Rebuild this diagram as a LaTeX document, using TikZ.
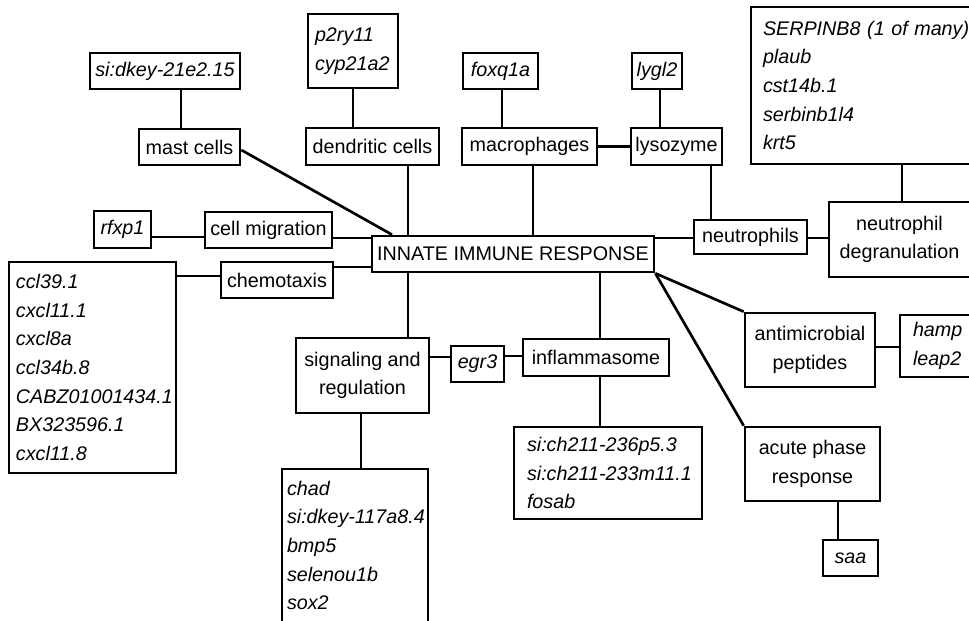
\documentclass[tikz,border=0pt]{standalone}
\usepackage{fontspec}
\setmainfont{Liberation Sans}
\tikzset{
  bx/.style={draw, line width=2pt, inner sep=0pt, font=\fontsize{14.8}{21.5}\selectfont},
  lbl/.style={bx, align=center},
  gen/.style={bx, align=left, font=\fontsize{14.8}{21.5}\selectfont\itshape},
  ln/.style={line width=2pt},
}
\newdimen\gbpad
\newcommand\labelbox[6]{%
  \pgfmathsetmacro\gbW{#4*0.75}\pgfmathsetmacro\gbH{#5*0.75}%
  \node[lbl, minimum width=\gbW pt, minimum height=\gbH pt] (#1) at (#2,#3) {#6};}
\newcommand\genebox[7]{%
  \pgfmathsetmacro\gbW{#4*0.75}\pgfmathsetmacro\gbH{#5*0.75}%
  \pgfmathsetlength\gbpad{#6*0.75pt}%
  \node[gen, minimum width=\gbW pt, minimum height=\gbH pt, text width=\gbW pt, inner xsep=0pt] (#1) at (#2,#3)
    {\leftskip=\gbpad \hyphenpenalty=10000 \exhyphenpenalty=10000 \hbadness=10000 \hfuzz=200pt #7\par};}
\begin{document}
\begin{tikzpicture}[x=0.75pt,y=-0.75pt]
\clip (0,0) rectangle (969,620);
\labelbox{gSi}{165}{71}{150}{36}{\itshape si:dkey-21e2.15}
\labelbox{mast}{189.5}{147}{101}{36}{mast cells}
\genebox{gP2}{353}{51}{90}{74}{7}{p2ry11\\cyp21a2}
\labelbox{dend}{372.5}{146.5}{133}{37}{dendritic cells}
\labelbox{gFox}{500.5}{71}{75}{36}{\itshape foxq1a}
\labelbox{macro}{529.5}{146.5}{135}{37}{macrophages}
\labelbox{gLy}{657}{71}{50}{36}{\itshape lygl2}
\labelbox{lyso}{676.5}{146.5}{91}{37}{lysozyme}
\genebox{gSer}{875.5}{85.5}{249}{157}{12}{SERPINB8 (1 of many)\\plaub\\cst14b.1\\serbinb1l4\\krt5}
\labelbox{neut}{750.5}{237}{113}{34}{neutrophils}
\labelbox{degr}{899.5}{239.5}{141}{75}{neutrophil\\degranulation}
\labelbox{gRf}{122.5}{229.5}{57}{37}{\itshape rfxp1}
\labelbox{migr}{268.5}{230}{127}{36}{cell migration}
\labelbox{innate}{513}{254}{282}{36}{INNATE IMMUNE RESPONSE}
\labelbox{chemo}{277}{280}{112}{36}{chemotaxis}
\genebox{gCcl}{92.5}{367.5}{167}{211}{7}{ccl39.1\\cxcl11.1\\cxcl8a\\ccl34b.8\\CABZ01001434.1\\BX323596.1\\cxcl11.8}
\labelbox{sig}{362.5}{375.5}{133}{75}{signaling and\\regulation}
\labelbox{gEgr}{477.5}{364}{53}{36}{\itshape egr3}
\labelbox{infl}{596}{357.5}{146}{37}{inflammasome}
\genebox{gSich}{608}{473}{188}{92}{13}{si:ch211-236p5.3\\si:ch211-233m11.1\\fosab}
\genebox{gChad}{355}{545.5}{146}{153}{5}{chad\\si:dkey-117a8.4\\bmp5\\selenou1b\\sox2}
\labelbox{anti}{810}{350}{130}{74}{antimicrobial\\peptides}
\genebox{gHamp}{945}{346}{90}{62}{13}{hamp\\leap2}
\labelbox{acute}{812.5}{464}{135}{74}{acute phase\\response}
\labelbox{gSaa}{850.5}{558}{55}{36}{\itshape saa}
%
\draw[ln] (181,0 |- gSi.south) -- (181,0 |- mast.north);
\draw[ln] (mast.east |- 0,150) -- (392,0 |- innate.north);
\draw[ln] (353,0 |- gP2.south) -- (353,0 |- dend.north);
\draw[ln] (408,0 |- dend.south) -- (408,0 |- innate.north);
\draw[ln] (502,0 |- gFox.south) -- (502,0 |- macro.north);
\draw[ln] (533,0 |- macro.south) -- (533,0 |- innate.north);
\draw[ln] (macro.east) -- (lyso.west);
\draw[ln] (660,0 |- gLy.south) -- (660,0 |- lyso.north);
\draw[ln] (711,0 |- lyso.south) -- (711,0 |- neut.north);
\draw[ln] (innate.east |- 0,238) -- (neut.west |- 0,238);
\draw[ln] (neut.east |- 0,238) -- (degr.west |- 0,238);
\draw[ln] (902,0 |- gSer.south) -- (902,0 |- degr.north);
\draw[ln] (gRf.east |- 0,237) -- (migr.west |- 0,237);
\draw[ln] (migr.east |- 0,238) -- (innate.west |- 0,238);
\draw[ln] (chemo.east |- 0,267) -- (innate.west |- 0,267);
\draw[ln] (gCcl.east |- 0,276) -- (chemo.west |- 0,276);
\draw[ln] (408,0 |- innate.south) -- (408,0 |- sig.north);
\draw[ln] (sig.east |- 0,357) -- (gEgr.west |- 0,357);
\draw[ln] (gEgr.east |- 0,356) -- (infl.west |- 0,356);
\draw[ln] (600,0 |- innate.south) -- (600,0 |- infl.north);
\draw[ln] (600,0 |- infl.south) -- (600,0 |- gSich.north);
\draw[ln] (361,0 |- sig.south) -- (361,0 |- gChad.north);
\draw[ln] (innate.south east) -- (anti.north west);
\draw[ln] (innate.south east) -- (acute.north west);
\draw[ln] (anti.east |- 0,347) -- (gHamp.west |- 0,347);
\draw[ln] (838,0 |- acute.south) -- (838,0 |- gSaa.north);
\end{tikzpicture}
\end{document}
